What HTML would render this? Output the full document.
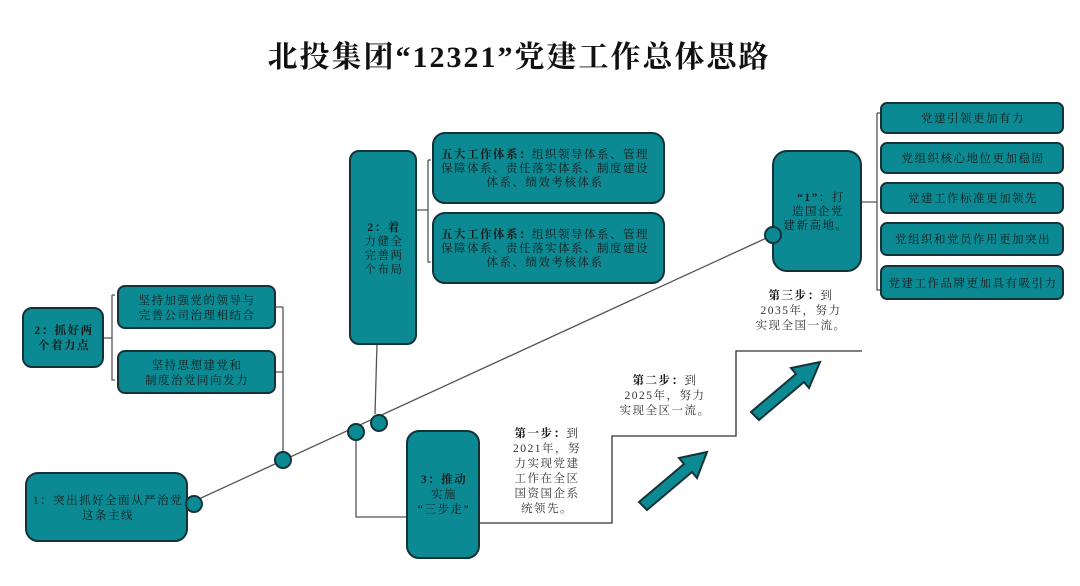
<!DOCTYPE html>
<html><head><meta charset="utf-8"><style>
body{margin:0;background:#fff;}
svg{display:block;font-family:"Liberation Serif","Noto Serif CJK SC",serif;}
.b{fill:#0b8a93;stroke:#153238;stroke-width:2;}
.l{stroke:#555;stroke-width:1.3;fill:none;}
.t{font-size:11.5px;fill:#1a1a1a;text-anchor:middle;letter-spacing:1.5px;}
.w{font-size:11.5px;fill:#333;text-anchor:middle;letter-spacing:1.5px;}
</style></head><body>
<svg width="1080" height="586" viewBox="0 0 1080 586">
<text x="519" y="67" text-anchor="middle" font-size="30" font-weight="bold" fill="#111" letter-spacing="2">北投集团“12321”党建工作总体思路</text>

<!-- connectors -->
<path class="l" d="M188 504 L773 235"/>
<path class="l" d="M275 307 H283 M275 372 H283 M283 307 V452"/>
<path class="l" d="M112 295 H115 M112 295 V380 H115 M104 338 H112"/>
<path class="l" d="M377 344 L375 414"/>
<path class="l" d="M356 440 V517 H407"/>
<path class="l" d="M428 160 H431 M428 160 V262 H431 M416 210 H428"/>
<path class="l" d="M877 113 H880 M877 113 V290 H880 M861 202 H877"/>
<path stroke="#333" stroke-width="1.3" fill="none" d="M479 523 H612 V436 H736 V351 H862"/>

<!-- left boxes -->
<rect class="b" x="23" y="308" width="80" height="59" rx="9"/>
<text class="t" font-weight="bold"><tspan x="64" y="334">2：抓好两</tspan><tspan x="64" y="349">个着力点</tspan></text>
<rect class="b" x="118" y="286" width="157" height="42" rx="7"/>
<text class="t"><tspan x="197" y="304">坚持加强党的领导与</tspan><tspan x="197" y="319">完善公司治理相结合</tspan></text>
<rect class="b" x="118" y="351" width="157" height="42" rx="7"/>
<text class="t"><tspan x="197" y="369">坚持思想建党和</tspan><tspan x="197" y="384">制度治党同向发力</tspan></text>
<rect class="b" x="26" y="473" width="161" height="68" rx="12"/>
<text class="t"><tspan x="108" y="504">1：突出抓好全面从严治党</tspan><tspan x="108" y="519">这条主线</tspan></text>

<!-- middle -->
<rect class="b" x="350" y="151" width="66" height="193" rx="9"/>
<text class="t"><tspan x="384" y="231" font-weight="bold">2：着</tspan><tspan x="384" y="245">力健全</tspan><tspan x="384" y="259">完善两</tspan><tspan x="384" y="273">个布局</tspan></text>
<rect class="b" x="433" y="133" width="231" height="70" rx="12"/>
<text class="t"><tspan x="545" y="158"><tspan font-weight="bold">五大工作体系：</tspan>组织领导体系、管理</tspan><tspan x="545" y="172">保障体系、责任落实体系、制度建设</tspan><tspan x="545" y="186">体系、绩效考核体系</tspan></text>
<rect class="b" x="433" y="213" width="231" height="70" rx="12"/>
<text class="t"><tspan x="545" y="238"><tspan font-weight="bold">五大工作体系：</tspan>组织领导体系、管理</tspan><tspan x="545" y="252">保障体系、责任落实体系、制度建设</tspan><tspan x="545" y="266">体系、绩效考核体系</tspan></text>
<rect class="b" x="407" y="431" width="72" height="127" rx="12"/>
<text class="t"><tspan x="444" y="483" font-weight="bold">3：推动</tspan><tspan x="444" y="498">实施</tspan><tspan x="444" y="513">“三步走”</tspan></text>

<!-- right -->
<rect class="b" x="773" y="151" width="88" height="120" rx="14"/>
<text class="t"><tspan x="821" y="201"><tspan font-weight="bold">“1”</tspan>：打</tspan><tspan x="818" y="215">造国企党</tspan><tspan x="816" y="229">建新高地。</tspan></text>
<g>
<rect class="b" x="881" y="103" width="182" height="30" rx="6"/><text class="t" x="973" y="122">党建引领更加有力</text>
<rect class="b" x="881" y="143" width="182" height="30" rx="6"/><text class="t" x="973" y="162">党组织核心地位更加稳固</text>
<rect class="b" x="881" y="183" width="182" height="30" rx="6"/><text class="t" x="973" y="202">党建工作标准更加领先</text>
<rect class="b" x="881" y="223" width="182" height="32" rx="6"/><text class="t" x="973" y="243">党组织和党员作用更加突出</text>
<rect class="b" x="881" y="266" width="182" height="33" rx="6"/><text class="t" x="973" y="287">党建工作品牌更加具有吸引力</text>
</g>

<!-- nodes -->
<circle class="b" cx="194" cy="504" r="8"/>
<circle class="b" cx="283" cy="460" r="8"/>
<circle class="b" cx="356" cy="432" r="8"/>
<circle class="b" cx="379" cy="423" r="8"/>
<circle class="b" cx="773" cy="235" r="8"/>

<!-- step texts -->
<text class="w"><tspan x="547" y="437"><tspan font-weight="bold" fill="#111">第一步：</tspan>到</tspan><tspan x="547" y="452">2021年，努</tspan><tspan x="547" y="467">力实现党建</tspan><tspan x="547" y="482">工作在全区</tspan><tspan x="547" y="497">国资国企系</tspan><tspan x="547" y="512">统领先。</tspan></text>
<text class="w"><tspan x="665" y="384"><tspan font-weight="bold" fill="#111">第二步：</tspan>到</tspan><tspan x="665" y="399">2025年，努力</tspan><tspan x="665" y="414">实现全区一流。</tspan></text>
<text class="w"><tspan x="801" y="299"><tspan font-weight="bold" fill="#111">第三步：</tspan>到</tspan><tspan x="801" y="314">2035年，努力</tspan><tspan x="801" y="329">实现全国一流。</tspan></text>

<!-- arrows -->
<polygon class="b" stroke-width="1.5" points="639,502 684,464 679,458 707,452 697,478 692,472 647,510"/>
<polygon class="b" stroke-width="1.5" points="751,412 796,374 791,368 820,362 809,388 804,382 759,420"/>
</svg>
</body></html>
